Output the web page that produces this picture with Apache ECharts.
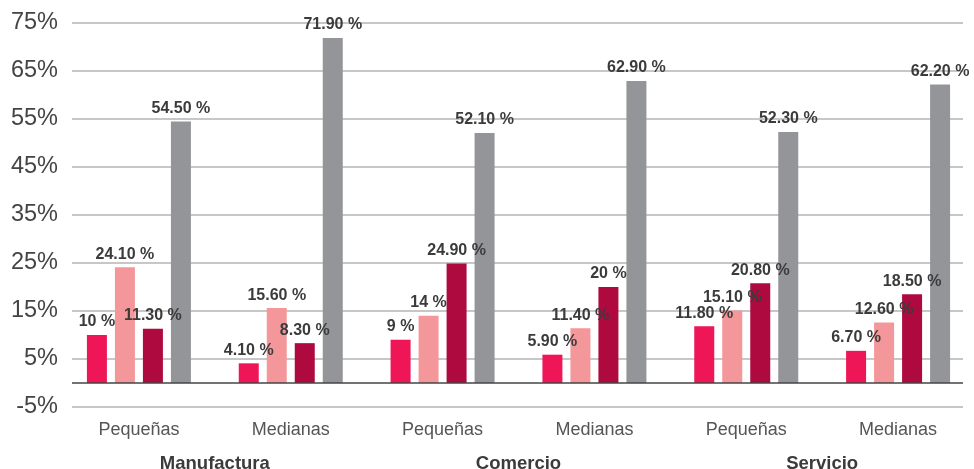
<!DOCTYPE html>
<html>
<head>
<meta charset="utf-8">
<script src="https://cdn.jsdelivr.net/npm/echarts@6/dist/echarts.min.js"></script>
<style>
  html, body { margin: 0; padding: 0; background: #fff; }
  #chart { width: 974px; height: 469px; }
</style>
</head>
<body>
<div id="chart"></div>
<script>
// categorías y grupos
const categories = ['Pequeñas', 'Medianas', 'Pequeñas', 'Medianas', 'Pequeñas', 'Medianas']
const groups = ['Manufactura', 'Comercio', 'Servicio']
// valores por serie (%)
const serieA = [10, 4.1, 9, 5.9, 11.8, 6.7]
const serieB = [24.1, 15.6, 14, 11.4, 15.1, 12.6]
const serieC = [11.3, 8.3, 24.9, 20, 20.8, 18.5]
const serieD = [54.5, 71.9, 52.1, 62.9, 52.3, 62.2]
const yTicks = [-5, 5, 15, 25, 35, 45, 55, 65, 75]

const colors = ['#ee1657', '#f4979a', '#ae0a40', '#949599']
const font = '"Liberation Sans", Arial, sans-serif'

const chart = echarts.init(document.getElementById('chart'))

function fmt(v) {
  return (Number.isInteger(v) ? String(v) : v.toFixed(2)) + ' %'
}

function barSeries(data, i) {
  return {
    type: 'bar',
    xAxisIndex: 1,
    yAxisIndex: 1,
    data: data,
    barWidth: 20,
    barGap: '40%',
    itemStyle: { color: colors[i] },
    label: {
      show: true,
      position: 'top',
      distance: 5,
      formatter: (p) => fmt(p.value),
      color: '#3b3b3b',
      fontFamily: font,
      fontWeight: 'bold',
      fontSize: 16,
    },
    silent: true,
    animation: false,
  }
}

const option = {
  animation: false,
  grid: [
    // ejes y líneas de fondo
    { left: 72, right: 11, top: 23, bottom: 62, outerBoundsMode: 'none' },
    // barras
    { left: 63, right: 0, top: 23, bottom: 62, outerBoundsMode: 'none' },
  ],
  xAxis: [
    {
      gridIndex: 0,
      type: 'value',
      min: 0,
      max: 1,
      show: true,
      axisLine: { show: false },
      axisTick: { show: false },
      axisLabel: { show: false },
      splitLine: { show: false },
    },
    {
      gridIndex: 1,
      type: 'category',
      data: categories,
      axisLine: { show: false },
      axisTick: { show: false },
      axisLabel: {
        color: '#555',
        fontFamily: font,
        fontSize: 18,
        margin: 14,
      },
    },
    {
      gridIndex: 1,
      type: 'category',
      position: 'bottom',
      offset: 33,
      data: groups,
      axisLine: { show: false },
      axisTick: { show: false },
      axisLabel: {
        color: '#3b3b3b',
        fontFamily: font,
        fontWeight: 'bold',
        fontSize: 18.5,
        margin: 14,
      },
    },
  ],
  yAxis: [
    {
      gridIndex: 0,
      type: 'value',
      min: yTicks[0],
      max: yTicks[yTicks.length - 1],
      interval: 10,
      axisLine: { show: false },
      axisTick: { show: false },
      axisLabel: {
        formatter: '{value}%',
        color: '#444',
        fontFamily: font,
        fontSize: 23.5,
        margin: 14,
      },
      splitLine: { lineStyle: { color: '#b4b4b4', width: 1.5 } },
    },
    {
      gridIndex: 1,
      type: 'value',
      min: yTicks[0],
      max: yTicks[yTicks.length - 1],
      interval: 10,
      show: false,
      splitLine: { show: false },
    },
  ],
  series: [
    barSeries(serieA, 0),
    barSeries(serieB, 1),
    barSeries(serieC, 2),
    barSeries(serieD, 3),
    {
      // línea del cero
      type: 'line',
      xAxisIndex: 0,
      yAxisIndex: 0,
      data: [],
      markLine: {
        silent: true,
        symbol: 'none',
        label: { show: false },
        lineStyle: { color: '#444', width: 1.5, type: 'solid' },
        data: [{ yAxis: 0 }],
      },
      z: 1,
    },
  ],
}
chart.setOption(option)
</script>
</body>
</html>
